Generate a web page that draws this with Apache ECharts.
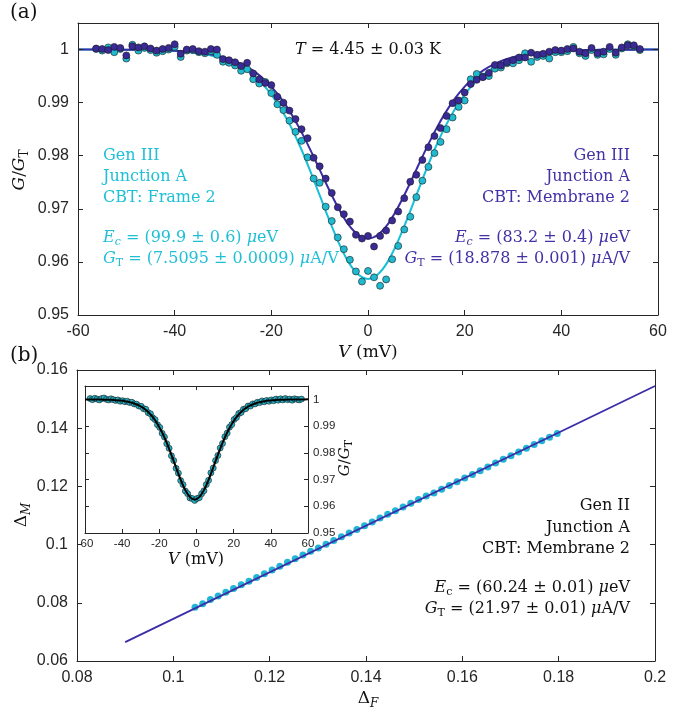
<!DOCTYPE html>
<html><head><meta charset="utf-8">
<script src="https://cdn.jsdelivr.net/npm/echarts@6/dist/echarts.min.js"></script>
<style>html,body{margin:0;padding:0;background:#fff}#c{width:696px;height:711px}</style>
</head><body><div id="c"></div>
<script>
// ---------- Panel (a): measured conductance ----------
const vA = [-56.25,-55,-53.75,-52.5,-51.25,-50,-48.75,-47.5,-46.25,-45,-43.75,-42.5,-41.25,-40,-38.75,-37.5,-36.25,-35,-33.75,-32.5,-31.25,-30,-28.75,-27.5,-26.25,-25,-23.75,-22.5,-21.25,-20,-18.75,-17.5,-16.25,-15,-13.75,-12.5,-11.25,-10,-8.75,-7.5,-6.25,-5,-3.75,-2.5,-1.25,0,1.25,2.5,3.75,5,6.25,7.5,8.75,10,11.25,12.5,13.75,15,16.25,17.5,18.75,20,21.25,22.5,23.75,25,26.25,27.5,28.75,30,31.25,32.5,33.75,35,36.25,37.5,38.75,40,41.25,42.5,43.75,45,46.25,47.5,48.75,50,51.25,52.5,53.75,55,56.25];
const gMembrane = [1.0002,1.0001,0.9999,1.0005,1.0003,0.9989,1.0006,1.0004,1.0006,1.0002,0.9998,1.0001,1.0003,1.0010,0.9992,1.0000,1.0001,0.9997,0.9996,1.0001,1.0000,0.9982,0.9980,0.9976,0.9969,0.9975,0.9955,0.9944,0.9937,0.9933,0.9911,0.9900,0.9885,0.9869,0.9850,0.9833,0.9796,0.9780,0.9757,0.9730,0.9703,0.9690,0.9676,0.9651,0.9644,0.9649,0.9629,0.9649,0.9659,0.9678,0.9695,0.9720,0.9751,0.9764,0.9792,0.9816,0.9837,0.9852,0.9875,0.9899,0.9904,0.9919,0.9935,0.9943,0.9948,0.9956,0.9971,0.9970,0.9976,0.9980,0.9985,0.9985,0.9994,0.9990,0.9992,0.9996,0.9999,0.9998,1.0001,1.0002,0.9996,0.9993,1.0003,0.9993,0.9996,1.0005,0.9994,1.0004,1.0008,1.0008,1.0001];
const gFrame = [1.0001,0.9998,1.0004,0.9995,1.0001,0.9983,1.0009,0.9998,1.0003,0.9999,0.9994,0.9997,1.0000,1.0005,0.9986,0.9998,0.9999,0.9995,0.9993,0.9997,0.9990,0.9977,0.9975,0.9970,0.9960,0.9963,0.9944,0.9936,0.9939,0.9918,0.9897,0.9886,0.9866,0.9845,0.9828,0.9797,0.9757,0.9749,0.9704,0.9677,0.9646,0.9624,0.9604,0.9582,0.9563,0.9583,0.9571,0.9555,0.9567,0.9605,0.9630,0.9661,0.9685,0.9722,0.9753,0.9779,0.9805,0.9826,0.9850,0.9872,0.9892,0.9904,0.9944,0.9954,0.9949,0.9950,0.9964,0.9966,0.9974,0.9974,0.9980,0.9993,0.9977,0.9986,0.9988,0.9983,0.9995,0.9995,0.9997,1.0005,0.9993,0.9988,0.9999,0.9990,0.9991,1.0001,0.9990,1.0002,1.0010,1.0006,0.9999];
// fit curves (a)
const vFitA = [-60,-58,-56,-54,-52,-50,-48,-46,-44,-42,-40,-38,-36,-34,-32,-30,-28,-26,-24,-22,-20,-18,-16,-14,-12,-10,-8,-6,-4,-2,0,2,4,6,8,10,12,14,16,18,20,22,24,26,28,30,32,34,36,38,40,42,44,46,48,50,52,54,56,58,60];
const fitMembrane = [1.0000,0.99999,0.99999,0.99998,0.99998,0.99996,0.99995,0.99992,0.99989,0.99984,0.99976,0.99965,0.99951,0.99929,0.99899,0.99856,0.99799,0.99721,0.99616,0.99478,0.99302,0.99079,0.98807,0.98487,0.98125,0.97739,0.97350,0.96992,0.96696,0.96507,0.96440,0.96507,0.96696,0.96992,0.97350,0.97739,0.98125,0.98487,0.98807,0.99079,0.99302,0.99478,0.99616,0.99721,0.99799,0.99856,0.99899,0.99929,0.99951,0.99965,0.99976,0.99984,0.99989,0.99992,0.99995,0.99996,0.99998,0.99998,0.99999,0.99999,1.0000];
const fitFrame = [1.0000,0.99999,0.99999,0.99998,0.99997,0.99996,0.99994,0.99990,0.99986,0.99980,0.99971,0.99958,0.99940,0.99914,0.99877,0.99825,0.99756,0.99661,0.99534,0.99367,0.99152,0.98882,0.98552,0.98164,0.97725,0.97256,0.96785,0.96350,0.95991,0.95761,0.95680,0.95761,0.95991,0.96350,0.96785,0.97256,0.97725,0.98164,0.98552,0.98882,0.99152,0.99367,0.99534,0.99661,0.99756,0.99825,0.99877,0.99914,0.99940,0.99958,0.99971,0.99980,0.99986,0.99990,0.99994,0.99996,0.99997,0.99998,0.99999,0.99999,1.0000];

// ---------- Panel (b): Delta_M vs Delta_F ----------
const deltaF = [0.1045,0.1061,0.1077,0.1093,0.1109,0.1125,0.1141,0.1157,0.1173,0.1189,0.1205,0.1221,0.1237,0.1253,0.1269,0.1285,0.1301,0.1317,0.1333,0.1349,0.1365,0.1381,0.1397,0.1413,0.1429,0.1445,0.1461,0.1477,0.1493,0.1509,0.1525,0.1541,0.1557,0.1573,0.1589,0.1605,0.1621,0.1637,0.1653,0.1669,0.1685,0.1701,0.1717,0.1733,0.1749,0.1765,0.1781,0.1797];
const deltaM = [0.0785,0.0797,0.0811,0.0823,0.0836,0.0849,0.0862,0.0874,0.0887,0.0900,0.0913,0.0926,0.0939,0.0951,0.0964,0.0977,0.0988,0.1001,0.1014,0.1027,0.1040,0.1052,0.1065,0.1078,0.1091,0.1104,0.1116,0.1129,0.1142,0.1155,0.1167,0.1177,0.1190,0.1203,0.1216,0.1229,0.1241,0.1254,0.1267,0.1280,0.1293,0.1305,0.1318,0.1331,0.1344,0.1357,0.1369,0.1382];
const fitBX = [0.09, 0.2];
const fitBY = [0.0665, 0.1545];

// ---------- Inset of (b) ----------
const vInset = [-57.25,-56,-54.75,-53.5,-52.25,-51,-49.75,-48.5,-47.25,-46,-44.75,-43.5,-42.25,-41,-39.75,-38.5,-37.25,-36,-34.75,-33.5,-32.25,-31,-29.75,-28.5,-27.25,-26,-24.75,-23.5,-22.25,-21,-19.75,-18.5,-17.25,-16,-14.75,-13.5,-12.25,-11,-9.75,-8.5,-7.25,-6,-4.75,-3.5,-2.25,-1,0.25,1.5,2.75,4,5.25,6.5,7.75,9,10.25,11.5,12.75,14,15.25,16.5,17.75,19,20.25,21.5,22.75,24,25.25,26.5,27.75,29,30.25,31.5,32.75,34,35.25,36.5,37.75,39,40.25,41.5,42.75,44,45.25,46.5,47.75,49,50.25,51.5,52.75,54,55.25,56.5];
const gInset = [1.0003,0.9999,1.0004,1.0001,0.9998,1.0003,1.0005,1.0000,0.9998,1.0002,0.9999,0.9996,0.9998,0.9993,0.9995,0.9991,0.9993,0.9988,0.9989,0.9983,0.9982,0.9975,0.9974,0.9965,0.9963,0.9950,0.9946,0.9931,0.9924,0.9905,0.9895,0.9873,0.9859,0.9834,0.9817,0.9789,0.9771,0.9742,0.9724,0.9696,0.9681,0.9657,0.9647,0.9631,0.9629,0.9622,0.9629,0.9632,0.9647,0.9658,0.9681,0.9697,0.9725,0.9743,0.9771,0.9790,0.9818,0.9835,0.9860,0.9874,0.9896,0.9906,0.9925,0.9932,0.9947,0.9951,0.9963,0.9965,0.9975,0.9975,0.9983,0.9983,0.9989,0.9988,0.9994,0.9991,0.9996,0.9993,0.9998,0.9995,1.0001,0.9997,1.0002,0.9998,1.0003,0.9999,1.0001,0.9997,1.0002,1.0000,0.9998,1.0001];
const vInsetFit = [-60,-58.5,-56,-53.5,-51,-48.5,-46,-43.5,-41,-38.5,-36,-33.5,-31,-28.5,-26,-23.5,-21,-18.5,-16,-13.5,-11,-8.5,-6,-3.5,-1,1.5,4,6.5,9,11.5,14,16.5,19,21.5,24,26.5,29,31.5,34,36.5,39,41.5,44,46.5,49,51.5,54,56.5,60];
const gInsetFit = [1.0000,0.99998,0.99997,0.99995,0.99992,0.99987,0.99981,0.9997,0.99955,0.99932,0.99897,0.99847,0.99774,0.99672,0.99529,0.99335,0.99081,0.98759,0.98370,0.97924,0.97450,0.96992,0.96604,0.96343,0.96250,0.96343,0.96604,0.96992,0.97450,0.97924,0.98370,0.98759,0.99081,0.99335,0.99529,0.99672,0.99774,0.99847,0.99897,0.99932,0.99955,0.9997,0.99981,0.99987,0.99992,0.99995,0.99997,0.99998,1.0000];

// ticks
const ticksVa = {min:-60, max:60, interval:20};
const ticksGa = {min:0.95, max:1.005, interval:0.01};
const ticksDF = {min:0.08, max:0.2, interval:0.02};
const ticksDM = {min:0.06, max:0.16, interval:0.02};

const CYAN = '#1fb9d0', CYAN_LINE = '#17bfd8', PURPLE = '#3a2a98', PURPLE_LINE = '#3b2ca8';
const AX = '#262626';
const SANS = 'Liberation Sans', SERIF = 'DejaVu Serif';

function axis(grid, pos, t, label, size, showMax) {
  return {
    type: 'value', gridIndex: grid, position: pos, min: t.min, max: t.max, interval: t.interval,
    axisLine: {show: true, onZero: false, lineStyle: {color: AX, width: 1}},
    axisTick: {show: true, inside: true, length: size < 14 ? 4 : 5, lineStyle: {color: AX}},
    splitLine: {show: false},
    axisLabel: {show: label, color: AX, fontFamily: SANS, fontSize: size, margin: size < 14 ? 5 : 9, showMaxLabel: showMax},
    z: 20
  };
}
const pair = (xs, ys) => xs.map((x, i) => [x, ys[i]]);

function T(x, y, text, o) {
  o = o || {};
  const fs = o.size || 16;
  return {
    type: 'text', x: x, y: y, rotation: o.rot || 0, z: 100,
    style: {
      text: text, fill: o.color || '#111', align: o.align || 'left', verticalAlign: 'middle',
      fontFamily: o.family || SERIF, fontSize: fs, lineHeight: fs + 4,
      rich: {
        i: {fontFamily: SERIF, fontStyle: 'italic', fontSize: fs, lineHeight: fs + 4},
        s: {fontFamily: SERIF, fontSize: Math.round(fs * 0.7), lineHeight: Math.round(fs * 0.7), padding: [Math.round(fs * 0.55), 0, 0, 0]},
        si: {fontFamily: SERIF, fontStyle: 'italic', fontSize: Math.round(fs * 0.7), lineHeight: Math.round(fs * 0.7), padding: [Math.round(fs * 0.55), 0, 0, 0]}
      }
    }
  };
}

const option = {
  backgroundColor: '#fff',
  animation: false,
  grid: [
    {left: 78, top: 23, width: 580, height: 292},
    {left: 77, top: 370, width: 578, height: 291},
    {left: 85, top: 386, width: 223, height: 147, show: true, backgroundColor: '#fff', borderWidth: 0, z: 10}
  ],
  xAxis: [
    axis(0, 'bottom', ticksVa, true, 16, true),
    axis(0, 'top', ticksVa, false, 16, true),
    axis(1, 'bottom', ticksDF, true, 16, true),
    axis(1, 'top', ticksDF, false, 16, true),
    Object.assign(axis(2, 'bottom', ticksVa, true, 11.5, true), {z: 30}),
    Object.assign(axis(2, 'top', ticksVa, false, 11.5, true), {z: 30})
  ],
  yAxis: [
    axis(0, 'left', ticksGa, true, 16, false),
    axis(0, 'right', ticksGa, false, 16, false),
    axis(1, 'left', ticksDM, true, 16, true),
    axis(1, 'right', ticksDM, false, 16, true),
    Object.assign(axis(2, 'left', ticksGa, false, 11.5, false), {z: 30}),
    Object.assign(axis(2, 'right', ticksGa, true, 11.5, false), {z: 30})
  ],
  series: [
    {type: 'line', xAxisIndex: 0, yAxisIndex: 0, data: pair(vFitA, fitFrame), showSymbol: false, smooth: 0.3,
     lineStyle: {color: CYAN_LINE, width: 2}, z: 2},
    {type: 'line', xAxisIndex: 0, yAxisIndex: 0, data: pair(vFitA, fitMembrane), showSymbol: false, smooth: 0.3,
     lineStyle: {color: PURPLE_LINE, width: 2}, z: 2},
    {type: 'scatter', xAxisIndex: 0, yAxisIndex: 0, data: pair(vA, gFrame), symbolSize: 7,
     itemStyle: {color: CYAN, borderColor: '#1a1a1a', borderWidth: 0.6, opacity: 1}, z: 3},
    {type: 'scatter', xAxisIndex: 0, yAxisIndex: 0, data: pair(vA, gMembrane), symbolSize: 7,
     itemStyle: {color: PURPLE, borderColor: '#1a1a1a', borderWidth: 0.6, opacity: 1}, z: 4},

    {type: 'scatter', xAxisIndex: 2, yAxisIndex: 2, data: pair(deltaF, deltaM), symbolSize: 7,
     itemStyle: {color: '#22b6d6', opacity: 1}, z: 3},
    {type: 'line', xAxisIndex: 2, yAxisIndex: 2, data: pair(fitBX, fitBY), showSymbol: false,
     lineStyle: {color: PURPLE_LINE, width: 1.8}, z: 4},

    {type: 'scatter', xAxisIndex: 4, yAxisIndex: 4, data: pair(vInset, gInset), symbolSize: 6,
     itemStyle: {color: '#25b3c9', borderColor: '#1a1a1a', borderWidth: 0.6, opacity: 1}, z: 31},
    {type: 'line', xAxisIndex: 4, yAxisIndex: 4, data: pair(vInsetFit, gInsetFit), showSymbol: false, smooth: 0.3,
     lineStyle: {color: '#000', width: 2}, z: 32}
  ],
  graphic: [
    T(10, 13, '(a)', {size: 20}),
    T(10, 356, '(b)', {size: 20}),
    T(368, 50, '{i|T} = 4.45 ± 0.03 K', {align: 'center'}),
    T(103, 156, 'Gen III', {color: '#1fbfd6'}),
    T(103, 177, 'Junction A', {color: '#1fbfd6'}),
    T(103, 198, 'CBT: Frame 2', {color: '#1fbfd6'}),
    T(103, 238, '{i|E}{si|c} = (99.9 ± 0.6) {i|μ}eV', {color: '#1fbfd6'}),
    T(103, 259, '{i|G}{s|T} = (7.5095 ± 0.0009) {i|μ}A/V', {color: '#1fbfd6'}),
    T(630, 156, 'Gen III', {color: '#4332a6', align: 'right'}),
    T(630, 177, 'Junction A', {color: '#4332a6', align: 'right'}),
    T(630, 198, 'CBT: Membrane 2', {color: '#4332a6', align: 'right'}),
    T(630, 238, '{i|E}{si|c} = (83.2 ± 0.4) {i|μ}eV', {color: '#4332a6', align: 'right'}),
    T(630, 259, '{i|G}{s|T} = (18.878 ± 0.001) {i|μ}A/V', {color: '#4332a6', align: 'right'}),
    T(20, 170, '{i|G}/{i|G}{s|T}', {rot: Math.PI / 2, align: 'center', size: 17}),
    T(368, 353, '{i|V} (mV)', {align: 'center', size: 17}),
    T(22, 515, 'Δ{si|M}', {rot: Math.PI / 2, align: 'center', size: 17}),
    T(368, 699, 'Δ{si|F}', {align: 'center', size: 17}),
    T(630, 506, 'Gen II', {align: 'right'}),
    T(630, 528, 'Junction A', {align: 'right'}),
    T(630, 549, 'CBT: Membrane 2', {align: 'right'}),
    T(630, 588, '{i|E}{s|c} = (60.24 ± 0.01) {i|μ}eV', {align: 'right'}),
    T(630, 609, '{i|G}{s|T} = (21.97 ± 0.01) {i|μ}A/V', {align: 'right'}),
    T(196, 560, '{i|V} (mV)', {align: 'center', size: 16}),
    T(345, 458, '{i|G}/{i|G}{s|T}', {rot: Math.PI / 2, align: 'center', size: 15})
  ]
};
const chart = echarts.init(document.getElementById('c'));
chart.setOption(option);
</script></body></html>
